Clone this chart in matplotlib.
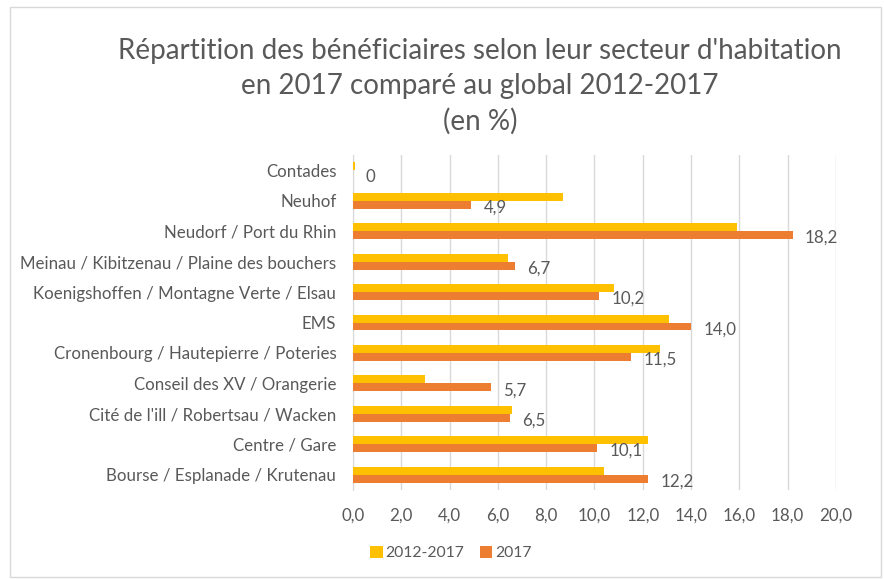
import matplotlib.pyplot as plt
import numpy as np
from matplotlib.patches import Rectangle

plt.rcParams['font.family'] = ['Lato', 'DejaVu Sans']

# categories listed bottom -> top
secteurs = ['Bourse / Esplanade / Krutenau', 'Centre / Gare',
            "Cité de l'ill / Robertsau / Wacken", 'Conseil des XV / Orangerie',
            'Cronenbourg / Hautepierre / Poteries', 'EMS',
            'Koenigshoffen / Montagne Verte / Elsau',
            'Meinau / Kibitzenau / Plaine des bouchers',
            'Neudorf / Port du Rhin', 'Neuhof', 'Contades']
global_2012_2017 = [10.4, 12.2, 6.6, 3.0, 12.7, 13.1, 10.8, 6.4, 15.9, 8.7, 0.1]
val_2017 = [12.2, 10.1, 6.5, 5.7, 11.5, 14.0, 10.2, 6.7, 18.2, 4.9, 0.0]
labels_2017 = ['12,2', '10,1', '6,5', '5,7', '11,5', '14,0', '10,2', '6,7', '18,2', '4,9', '0']
xticks = np.arange(0, 21, 2)

gris = '#595959'
jaune = '#FFC000'
orange = '#ED7D31'

fig = plt.figure(figsize=(8.84, 5.79), dpi=100)
ax = fig.add_axes([0.3993, 0.1537, 0.5464, 0.5786])

y = np.arange(len(secteurs))
h = 0.26
ax.barh(y + h / 2, global_2012_2017, height=h, color=jaune, label='2012-2017', zorder=3)
ax.barh(y - h / 2, val_2017, height=h, color=orange, label='2017', zorder=3)

for yi, v, lab in zip(y, val_2017, labels_2017):
    ax.annotate(lab, (v, yi - h / 2), xytext=(9, -2), textcoords='offset points',
                ha='left', va='center', fontsize=12.2, color=gris)

ax.set_xlim(0, 20)
ax.set_ylim(-0.5, len(secteurs) - 0.5)
ax.set_xticks(xticks)
ax.set_xticklabels([('%.1f' % t).replace('.', ',') for t in xticks])
ax.set_yticks(y)
ax.set_yticklabels(secteurs)
ax.tick_params(axis='both', length=0, labelsize=12.2, labelcolor=gris)
ax.tick_params(axis='x', pad=13)
ax.tick_params(axis='y', pad=12)
ax.grid(axis='x', color='#D9D9D9', linewidth=1, zorder=0)
for s in ['top', 'right', 'bottom']:
    ax.spines[s].set_visible(False)
ax.spines['left'].set_color('#D9D9D9')

titre = ["Répartition des bénéficiaires selon leur secteur d'habitation",
         'en 2017 comparé au global 2012-2017', '(en %)']
for i, ligne in enumerate(titre):
    fig.text(0.543, 0.912 - i * 0.0605, ligne, ha='center', va='center',
             fontsize=20, color=gris)

fig.legend(loc='center', bbox_to_anchor=(0.51, 0.045), ncol=2, frameon=False,
           fontsize=11.3, labelcolor=gris, handlelength=0.8, handleheight=0.8,
           handletextpad=0.15, columnspacing=1.0)

fig.patches.append(Rectangle((0.011, 0.004), 0.986, 0.984, transform=fig.transFigure,
                             fill=False, edgecolor='#D9D9D9', linewidth=1))

fig.savefig('out.png', dpi=100)
